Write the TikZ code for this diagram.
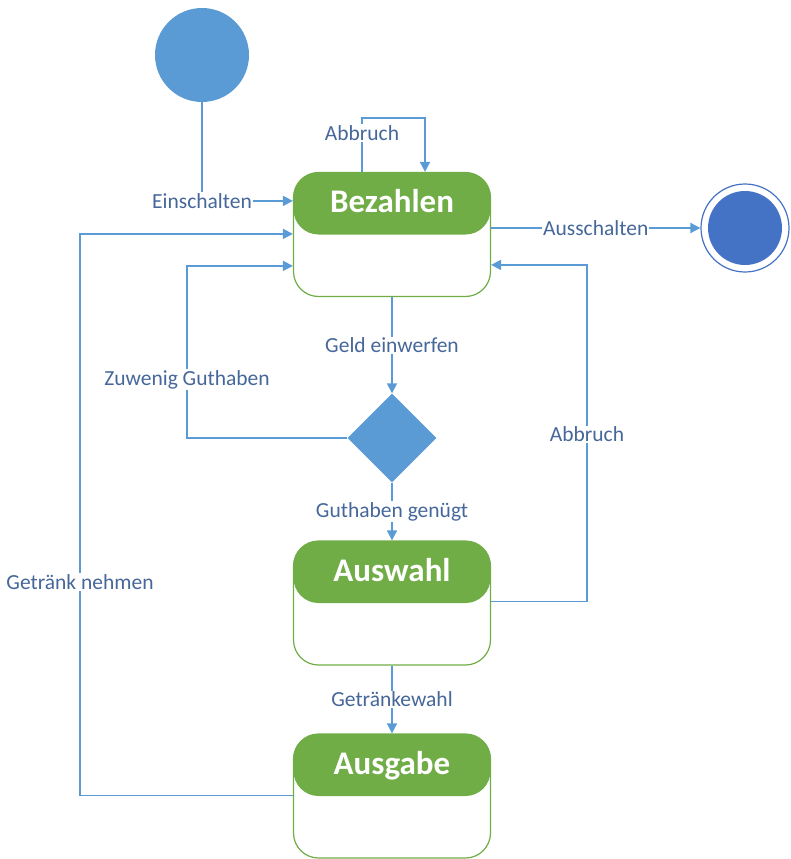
\documentclass[tikz,border=0pt]{standalone}
\usepackage{fontspec}
\setmainfont{Carlito}
\usetikzlibrary{arrows.meta,shapes.geometric,calc}
\definecolor{lineblue}{HTML}{5B9BD5}
\definecolor{endblue}{HTML}{4472C4}
\definecolor{stgreen}{HTML}{70AD47}
\definecolor{lbltext}{HTML}{46679A}
\begin{document}
\begin{tikzpicture}[x=1pt,y=-1pt,
  statebox/.style={draw=stgreen, line width=1.2pt, rounded corners=25pt,
    minimum width=197pt, minimum height=124pt, inner sep=0pt,
    path picture={\fill[stgreen] (path picture bounding box.north west) rectangle ([yshift=-62pt]path picture bounding box.north east);}},
  title/.style={text=white, font=\fontsize{33}{37}\selectfont\bfseries, anchor=base, inner sep=0pt},
  lbl/.style={fill=white, text=lbltext, font=\fontsize{21.5}{25}\selectfont, inner sep=1pt},
  conn/.style={draw=lineblue, line width=1.7pt},
  arr/.style={conn, -{Triangle[length=10pt,width=10pt]}}]
\useasboundingbox (0,0) rectangle (790,859);
% nodes
\node[circle, fill=lineblue, minimum size=94pt, inner sep=0pt] (start) at (202,55) {};
\node[statebox] (bez) at (392,234.5) {};
\node[title] (bezt) at ([yshift=-41pt]bez.north) {Bezahlen};
\node[diamond, fill=lineblue, minimum width=89pt, minimum height=89pt, inner sep=0pt] (dia) at (392,438) {};
\node[statebox] (ausw) at (392,603) {};
\node[title] (auswt) at ([yshift=-41pt]ausw.north) {Auswahl};
\node[statebox] (ausg) at (392,796) {};
\node[title] (ausgt) at ([yshift=-41pt]ausg.north) {Ausgabe};
\node[circle, draw=endblue, line width=1.2pt, minimum size=88pt, inner sep=0pt] (end) at (745,228) {};
\node[circle, fill=endblue, minimum size=74pt, inner sep=0pt] (endin) at (end.center) {};
% helper coordinates
\coordinate (gx) at (80,0);
\coordinate (zx) at (187,0);
\coordinate (ax) at (587,0);
\coordinate (bezE) at ([yshift=-29pt]bez.north west);
\coordinate (bezG) at ([yshift=-62pt]bez.north west);
\coordinate (bezZ) at ([yshift=-94pt]bez.north west);
\coordinate (bezA) at ([yshift=-93pt]bez.north east);
\coordinate (bezS) at ([yshift=-56pt]bez.north east);
\coordinate (auswH) at ([yshift=-61pt]ausw.north east);
\coordinate (ausgH) at ([yshift=-62pt]ausg.north west);
% connectors
\draw[arr] (start.south) |- node[lbl, pos=0.5] {Einschalten} (bezE);
\draw[arr] ([xshift=-30pt]bez.north) -- node[lbl, pos=0.72] {Abbruch} ++(0,-54) -| ([xshift=33pt]bez.north);
\draw[arr] (bezS) -- node[lbl] {Ausschalten} (end.west);
\draw[arr] (bez.south) -- node[lbl] {Geld einwerfen} (dia.north);
\draw[arr] (dia.south) -- node[lbl] {Guthaben genügt} (ausw.north);
\draw[arr] (ausw.south) -- node[lbl] {Getränkewahl} (ausg.north);
\draw[arr] (dia.west) -- (dia.west -| zx) |- node[lbl, pos=0.17] {Zuwenig Guthaben} (bezZ);
\draw[arr] (auswH) -- (auswH -| ax) |- node[lbl, pos=0.248] {Abbruch} (bezA);
\draw[arr] (ausgH) -- (ausgH -| gx) |- node[lbl, pos=0.19] {Getränk nehmen} (bezG);
\end{tikzpicture}
\end{document}
